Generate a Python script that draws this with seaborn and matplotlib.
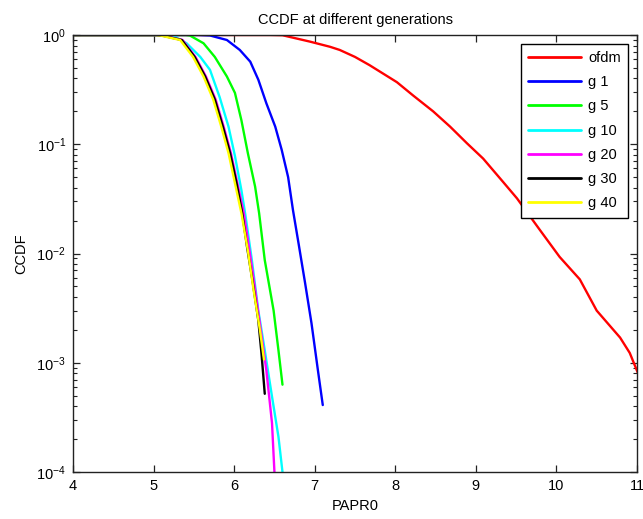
import numpy as np
import pandas as pd
import matplotlib
matplotlib.use("Agg")
import matplotlib.pyplot as plt
import seaborn as sns

# ==========================================
# Data (PAPR0 in dB, CCDF)
# ==========================================
ofdm_x = [4.0, 6.45, 6.6, 6.94, 7.19, 7.31, 7.5, 7.68, 8.02, 8.22, 8.47, 8.68, 8.89,
          9.09, 9.34, 9.51, 9.79, 10.04, 10.29, 10.5, 10.79, 10.91, 11.01]
ofdm_y = [1.0, 1.0, 0.995, 0.87, 0.78, 0.73, 0.63, 0.53, 0.37, 0.28, 0.20, 0.145, 0.102,
          0.074, 0.045, 0.032, 0.0166, 0.0093, 0.0058, 0.0030, 0.0017, 0.00123, 0.00081]

g1_x = [4.0, 5.55, 5.70, 5.91, 6.07, 6.20, 6.30, 6.40, 6.51, 6.59, 6.67, 6.73,
        6.80, 6.88, 6.96, 7.04, 7.10]
g1_y = [1.0, 1.0, 0.99, 0.90, 0.73, 0.57, 0.39, 0.237, 0.145, 0.089, 0.050, 0.025,
        0.0123, 0.0054, 0.0023, 0.00085, 0.00041]

g5_x = [4.0, 5.40, 5.45, 5.62, 5.76, 5.91, 6.01, 6.09, 6.17, 6.26, 6.31, 6.38,
        6.49, 6.55, 6.60]
g5_y = [1.0, 1.0, 0.99, 0.84, 0.63, 0.417, 0.295, 0.166, 0.083, 0.041, 0.0234, 0.0087,
        0.0030, 0.0013, 0.00063]

g10_x = [4.0, 5.18, 5.24, 5.41, 5.58, 5.70, 5.82, 5.93, 6.01, 6.09, 6.14, 6.22,
         6.30, 6.38, 6.47, 6.55, 6.60]
g10_y = [1.0, 1.0, 0.99, 0.84, 0.63, 0.48, 0.27, 0.145, 0.078, 0.038, 0.0224, 0.0087,
         0.0030, 0.0013, 0.00049, 0.00021, 0.0001]

g20_x = [4.0, 5.06, 5.12, 5.36, 5.52, 5.65, 5.77, 5.87, 5.96, 6.04, 6.12, 6.19,
         6.26, 6.33, 6.40, 6.47, 6.50]
g20_y = [1.0, 1.0, 0.99, 0.90, 0.63, 0.417, 0.257, 0.145, 0.083, 0.044, 0.0234, 0.0107,
         0.0047, 0.0020, 0.00085, 0.00028, 0.0001]

g30_x = [4.0, 5.04, 5.10, 5.35, 5.51, 5.64, 5.76, 5.86, 5.95, 6.03, 6.10, 6.16,
         6.23, 6.30, 6.34, 6.38]
g30_y = [1.0, 1.0, 0.99, 0.90, 0.63, 0.417, 0.257, 0.145, 0.083, 0.044, 0.0234, 0.0115,
         0.0055, 0.00245, 0.0012, 0.00052]

g40_x = [4.0, 5.02, 5.08, 5.33, 5.49, 5.62, 5.74, 5.84, 5.93, 6.01, 6.09, 6.17,
         6.24, 6.32, 6.37]
g40_y = [1.0, 1.0, 0.99, 0.90, 0.63, 0.417, 0.257, 0.145, 0.083, 0.044, 0.0234, 0.0107,
         0.0047, 0.0020, 0.00107]

labels = ["ofdm", "g 1", "g 5", "g 10", "g 20", "g 30", "g 40"]
colors = ["#ff0000", "#0000ff", "#00ff00", "#00ffff", "#ff00ff", "#000000", "#ffff00"]
series = [(ofdm_x, ofdm_y), (g1_x, g1_y), (g5_x, g5_y), (g10_x, g10_y),
          (g20_x, g20_y), (g30_x, g30_y), (g40_x, g40_y)]

rows = []
for lab, (xs, ys) in zip(labels, series):
    for xv, yv in zip(xs, ys):
        rows.append({"gen": lab, "papr": xv, "ccdf": yv})
df = pd.DataFrame(rows)

# ==========================================
# Style
# ==========================================
sns.set_style("white")
plt.rcParams["font.family"] = ["Liberation Sans", "DejaVu Sans"]
plt.rcParams["mathtext.fontset"] = "custom"
plt.rcParams["mathtext.rm"] = "Liberation Sans"
plt.rcParams["mathtext.it"] = "Liberation Sans"
plt.rcParams["xtick.direction"] = "in"
plt.rcParams["ytick.direction"] = "in"
plt.rcParams["text.color"] = "black"
plt.rcParams["axes.labelcolor"] = "black"

fig = plt.figure(figsize=(6.43, 5.19), dpi=100)
ax = fig.add_axes([73 / 643, 1 - 472 / 519, (637 - 73) / 643, (472 - 35) / 519])

sns.lineplot(data=df, x="papr", y="ccdf", hue="gen", hue_order=labels,
             palette=dict(zip(labels, colors)), sort=False, estimator=None,
             units="gen", linewidth=1.7, ax=ax)

ax.set_yscale("log")
ax.set_xlim(4, 11)
ax.set_ylim(1e-4, 1)
ax.set_xticks(range(4, 12))

for s in ax.spines.values():
    s.set_color("#222222")
    s.set_linewidth(1.0)
ax.tick_params(which="both", left=True, bottom=True, top=True, right=True,
               labelsize=10.5, colors="#222222", labelcolor="black")
ax.tick_params(which="major", length=5, width=0.9, pad=5)
ax.tick_params(which="minor", length=3, width=0.8)
ax.tick_params(axis="x", which="minor", top=False, bottom=False)

ax.set_title("CCDF at different generations", fontsize=10.5, pad=8)
ax.set_xlabel("PAPR0", fontsize=10.5, labelpad=4)
ax.set_ylabel("CCDF", fontsize=10.5, labelpad=6)

handles, labs = ax.get_legend_handles_labels()
leg = ax.legend(handles, labs, loc="upper right", fontsize=10.5, frameon=True,
                fancybox=False, edgecolor="black", framealpha=1,
                handlelength=3.6, handletextpad=0.5, labelspacing=0.7,
                borderpad=0.5, borderaxespad=0.6)
leg.get_frame().set_linewidth(1.0)
for line in leg.get_lines():
    line.set_linewidth(2.0)

fig.savefig("out.png", dpi=100)
